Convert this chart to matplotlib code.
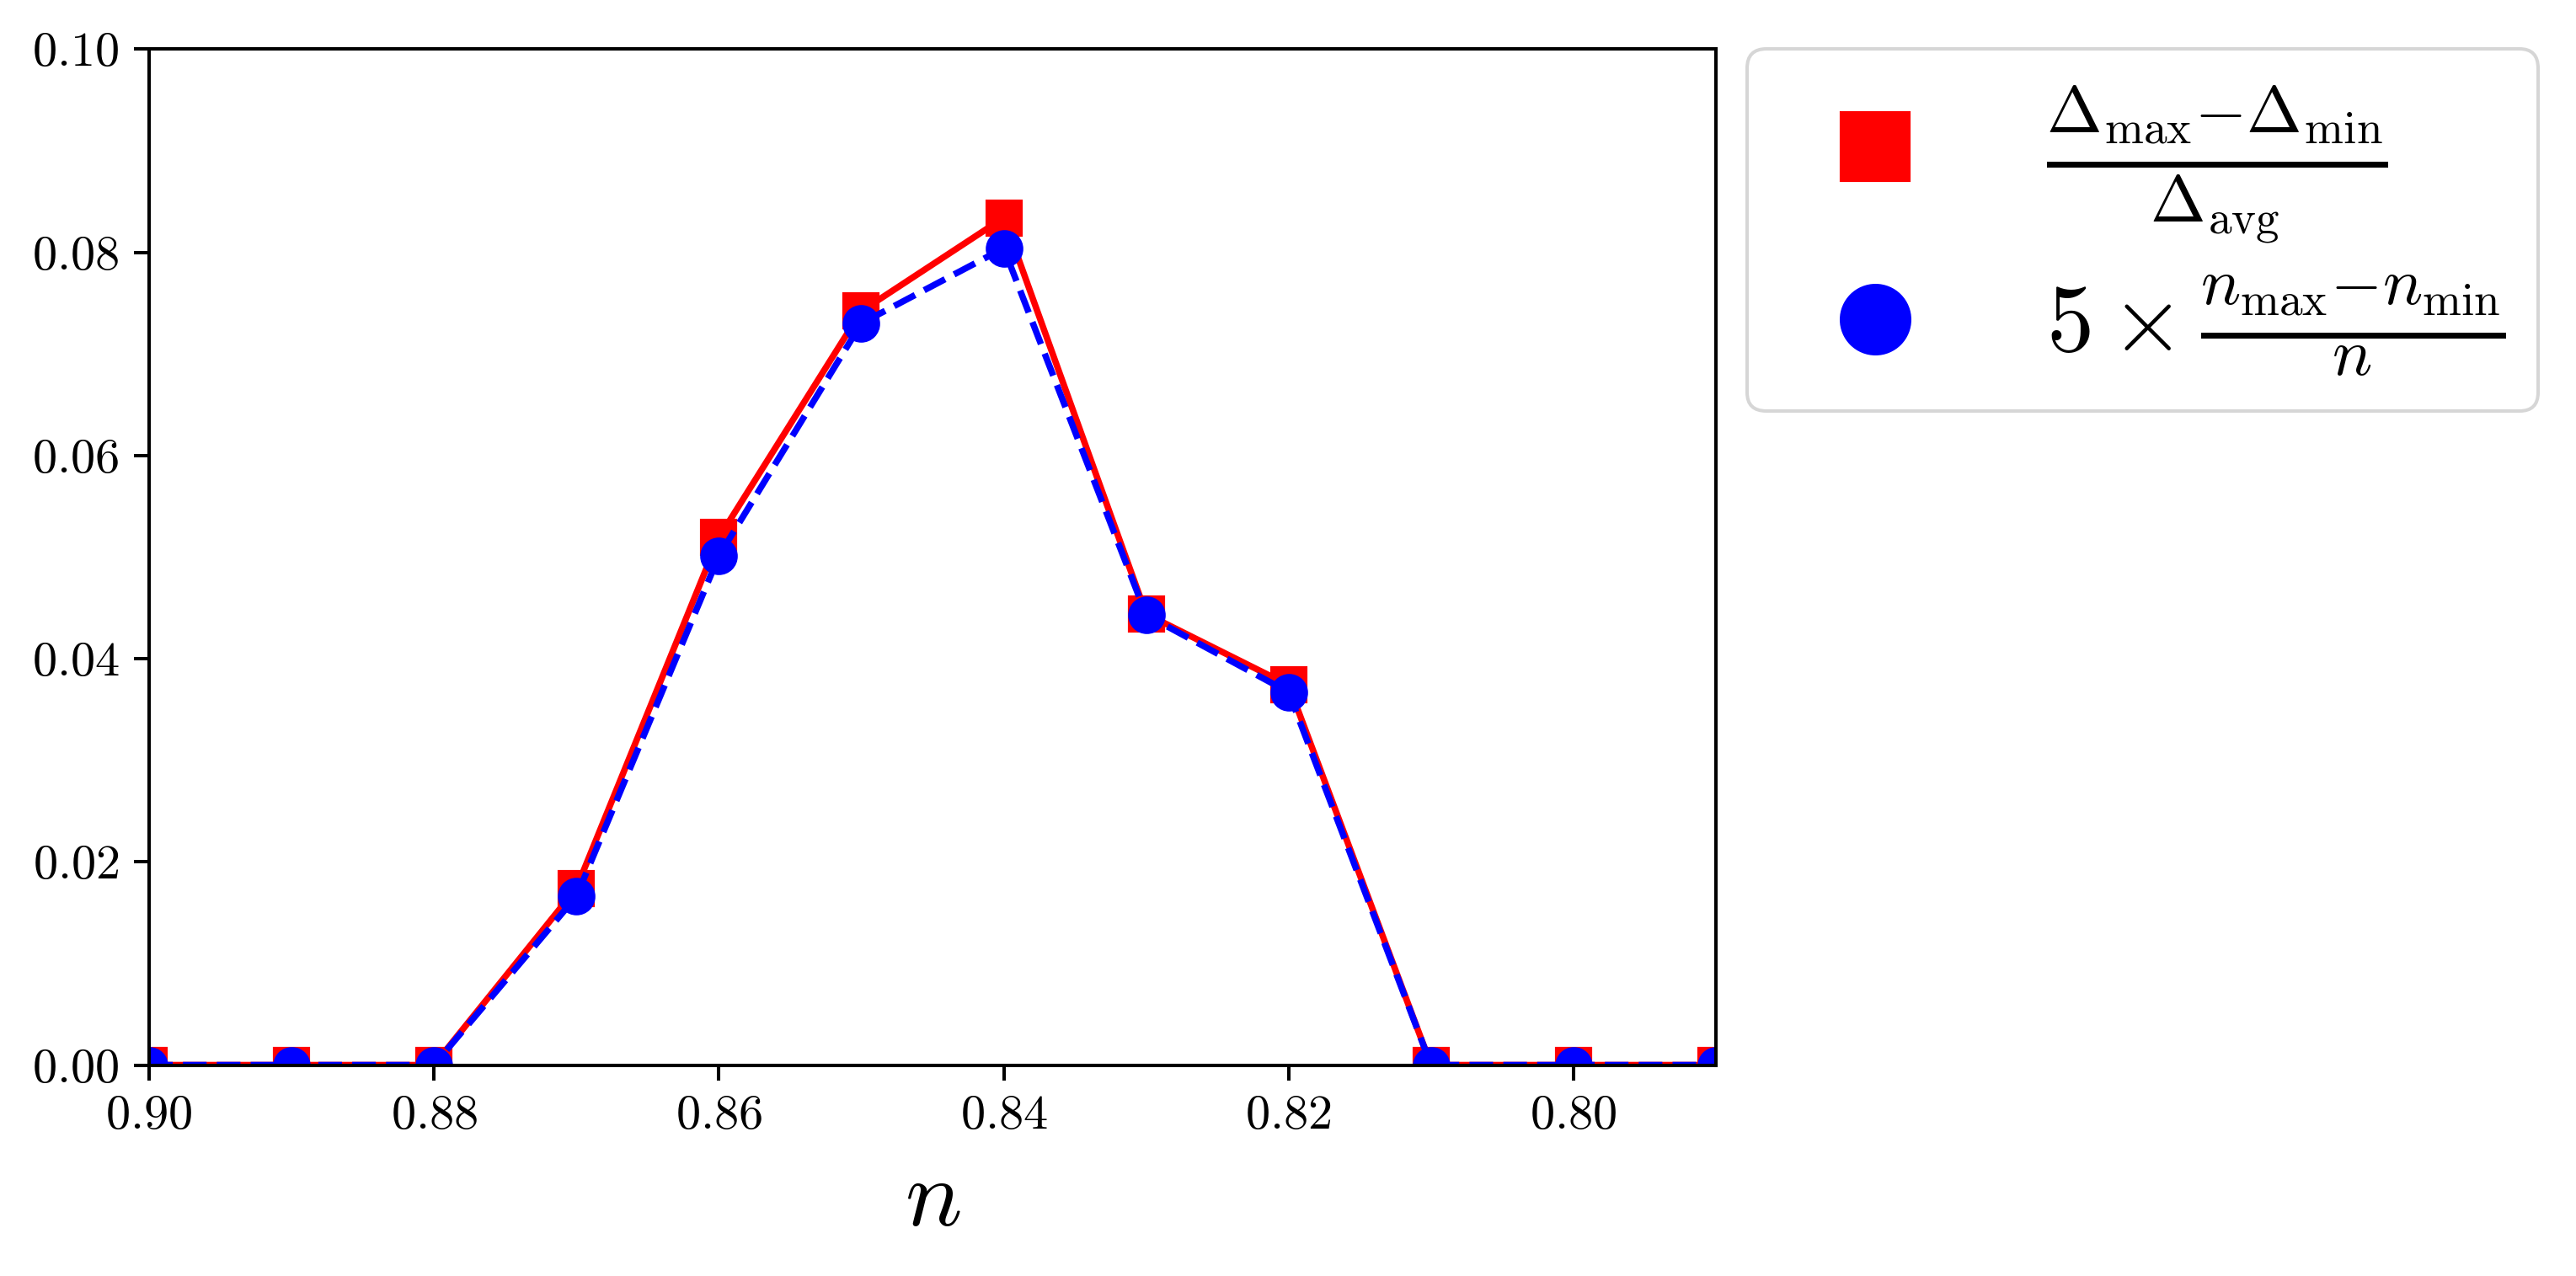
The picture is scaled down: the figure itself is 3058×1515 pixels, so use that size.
import matplotlib
matplotlib.use("Agg")
import matplotlib.pyplot as plt
from matplotlib.ticker import FormatStrFormatter, MultipleLocator

plt.rcParams['mathtext.fontset'] = 'cm'
plt.rcParams['font.family'] = 'serif'
plt.rcParams['font.serif'] = ['cmr10', 'DejaVu Serif']
plt.rcParams['axes.formatter.use_mathtext'] = True

# data
n_values = [0.90, 0.89, 0.88, 0.87, 0.86, 0.85, 0.84, 0.83, 0.82, 0.81, 0.80, 0.79]
delta_spread = [0.0, 0.0, 0.0, 0.0174, 0.0519, 0.0742, 0.0834, 0.0444, 0.0374, 0.0, 0.0, 0.0]
density_spread = [0.0, 0.0, 0.0, 0.0166, 0.0501, 0.0730, 0.0804, 0.0443, 0.0367, 0.0, 0.0, 0.0]
label_delta = r'$\frac{\Delta_{\rm max}{-}\Delta_{\rm min}}{\Delta_{\rm avg}}$'
label_density = r'$5\times\frac{n_{\rm max}{-}n_{\rm min}}{n}$'

s = 1.213
W, H = 3058, 1515
fig = plt.figure(figsize=(W / 300, H / 300), dpi=300)
ax = fig.add_axes([177 / W, 1 - 1264.5 / H, (2037 - 177) / W, (1264.5 - 58.3) / H])

ax.plot(n_values, delta_spread, color='red', linestyle='-', marker='s',
        lw=1.5 * s, markersize=8 * s, label=label_delta)
ax.plot(n_values, density_spread, color='blue', linestyle='--', marker='o',
        lw=1.5 * s, markersize=8 * s, label=label_density)

ax.set_xlim(0.90, 0.79)
ax.set_ylim(0.0, 0.10)
ax.xaxis.set_major_locator(MultipleLocator(0.02))
ax.yaxis.set_major_locator(MultipleLocator(0.02))
ax.xaxis.set_major_formatter(FormatStrFormatter(r'$%.2f$'))
ax.yaxis.set_major_formatter(FormatStrFormatter(r'$%.2f$'))

for sp in ax.spines.values():
    sp.set_linewidth(0.8 * s)
ax.tick_params(axis='both', which='major', labelsize=14, length=3.5 * s,
               width=0.8 * s, pad=3.5 * s)

ax.set_xlabel(r'$n$', fontsize=27, labelpad=6)

leg = ax.legend(loc='upper left', bbox_to_anchor=(1.02, 1.0), borderaxespad=0.0,
                fontsize=27, markerscale=2, frameon=True, labelspacing=0.3,
                borderpad=0.35)
for h in leg.legend_handles:
    h.set_linestyle('none')
leg.get_frame().set_linewidth(0.8 * s)

fig.savefig('out.png', dpi=300)
